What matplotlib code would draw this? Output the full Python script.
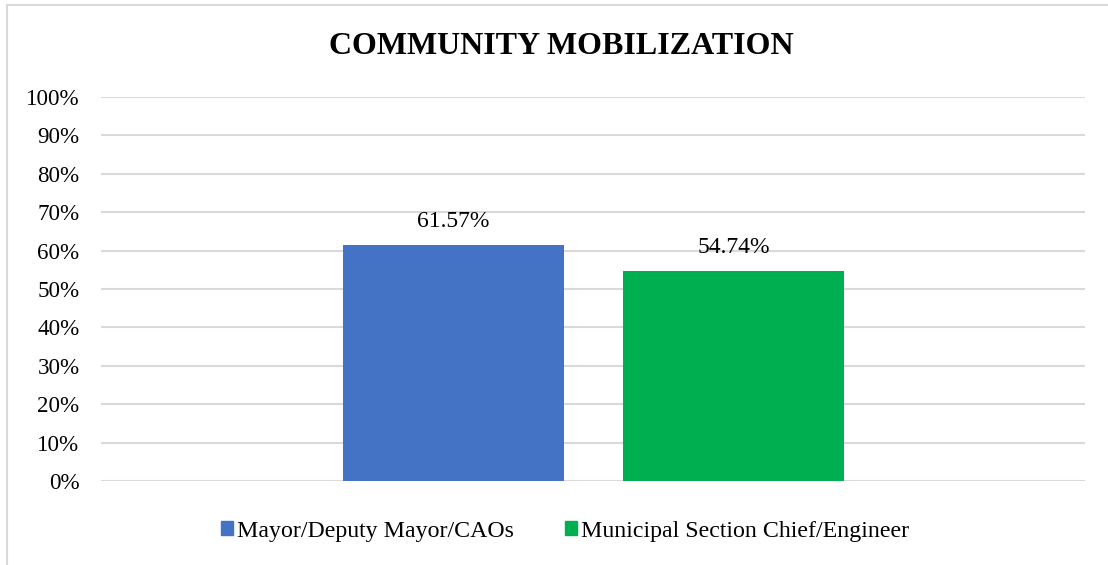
import matplotlib.pyplot as plt
from matplotlib.patches import Rectangle
from matplotlib.ticker import PercentFormatter

title = "COMMUNITY MOBILIZATION"
series = ["Mayor/Deputy Mayor/CAOs", "Municipal Section Chief/Engineer"]
values = [61.57, 54.74]
colors = ["#4472C4", "#00B050"]
yticks = list(range(0, 101, 10))

plt.rcParams['font.family'] = ['Liberation Serif', 'DejaVu Serif']

fig = plt.figure(figsize=(11.08, 5.65), dpi=100)
ax = fig.add_axes([0.0912, 0.1487, 0.888, 0.6796])

# chart frame (left and top edges visible, the rest runs off the canvas)
fig.patches.append(Rectangle((7 / 1108, -0.1), 1.2, 1.1 - 6 / 565 + 0.001,
                             transform=fig.transFigure, fill=False,
                             edgecolor="#d9d9d9", lw=1.5))

xpos = [0.3582, 0.6428]
width = 0.2246
bars = ax.bar(xpos, values, width=width, color=colors, label=series, zorder=3)
for x, v in zip(xpos, values):
    ax.annotate(f"{v:.2f}%", (x, v), xytext=(0, 9), textcoords="offset points",
                ha="center", va="bottom", fontsize=17)

ax.set_xlim(0, 1)
ax.set_ylim(0, 100)
ax.set_yticks(yticks)
ax.yaxis.set_major_formatter(PercentFormatter(decimals=0))
ax.set_xticks([])
ax.tick_params(axis="y", length=0, labelsize=16.6, pad=15.5)
ax.grid(axis="y", color="#d9d9d9", lw=1.5, zorder=0)
for s in ax.spines.values():
    s.set_visible(False)

fig.text(561 / 1108, 1 - 47 / 565, title, ha="center", va="center",
         fontsize=23, fontweight="bold")

handles = [Rectangle((0, 0), 1, 1, color=c) for c in colors]
fig.legend(handles, series, loc="center", bbox_to_anchor=(565 / 1108, 1 - 531 / 565),
           ncol=2, frameon=False, fontsize=17.2, handlelength=0.5, handleheight=0.5,
           handletextpad=0.17, columnspacing=2.17)

fig.savefig("out.png", dpi=100)
